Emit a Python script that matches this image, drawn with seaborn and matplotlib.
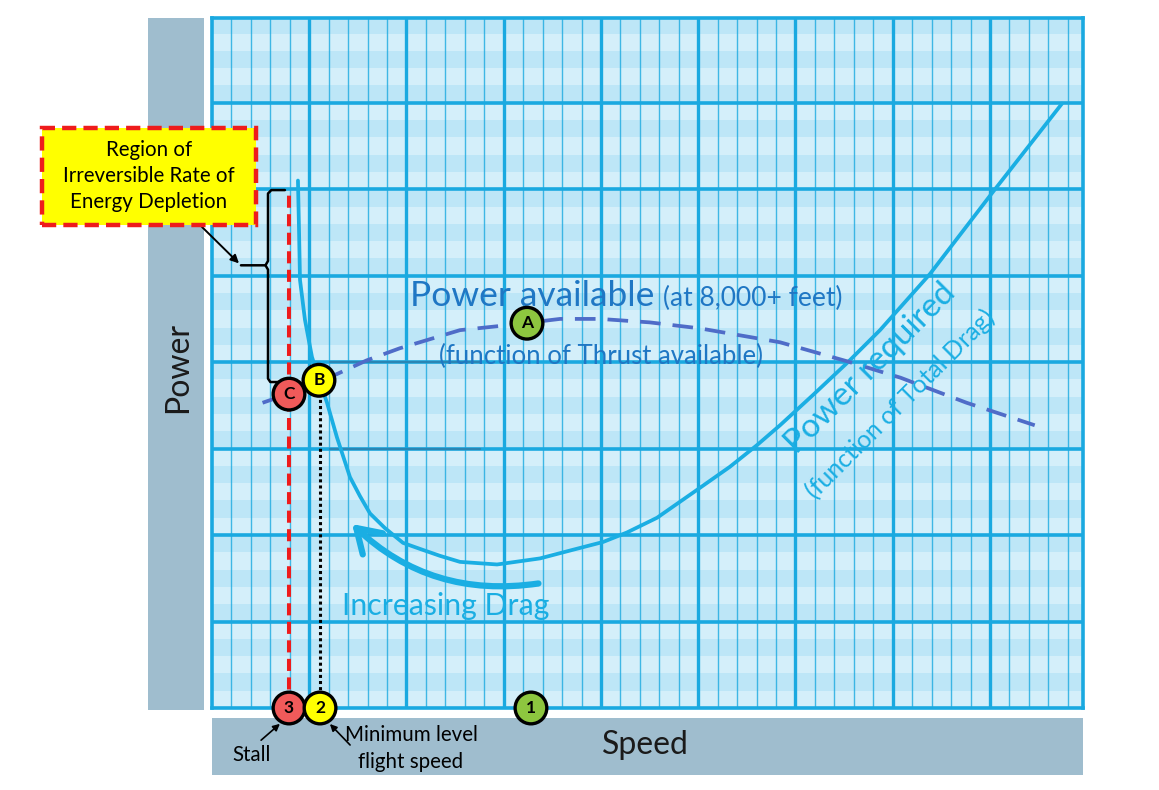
import matplotlib
matplotlib.use("Agg")
import matplotlib.pyplot as plt
from matplotlib.patches import Rectangle, FancyArrowPatch
import seaborn as sns
import numpy as np
import pandas as pd

# power required curve (speed, power), grid units
req_speed = [0.884, 0.895, 0.905, 0.956, 1.028, 1.111, 1.183, 1.285, 1.419, 1.522,
             1.625, 1.779, 1.964, 2.139, 2.344, 2.550, 2.931, 3.373, 3.712, 4.021,
             4.267, 4.576, 4.946, 5.326, 5.604, 5.841, 6.180, 6.530, 6.869, 7.383,
             8.031, 8.740]
req_power = [6.10, 5.53, 4.95, 4.49, 4.06, 3.77, 3.53, 3.13, 2.67, 2.45,
             2.25, 2.08, 1.91, 1.84, 1.76, 1.69, 1.66, 1.73, 1.83, 1.92,
             2.03, 2.20, 2.49, 2.79, 3.04, 3.27, 3.62, 3.99, 4.37, 5.02,
             5.97, 6.99]

# power available curve (dashed)
avail_speed = [0.52, 1.01, 1.59, 1.93, 2.55, 3.06, 3.58, 3.99, 4.50, 5.02, 5.84, 6.53, 7.08, 7.76, 8.46]
avail_power = [3.53, 3.72, 4.02, 4.16, 4.37, 4.43, 4.50, 4.50, 4.46, 4.39, 4.23, 4.01, 3.82, 3.53, 3.27]

# labelled points
pt_labels = ["C", "B", "A", "3", "2", "1"]
pt_speed = [0.792, 1.100, 3.239, 0.792, 1.111, 3.280]
pt_power = [3.63, 3.79, 4.45, 0.0, 0.0, 0.0]
pt_colors = ["#f05a5a", "#ffff00", "#8dc63f", "#f05a5a", "#ffff00", "#8dc63f"]

stall_speed = 0.792
min_level_speed = 1.111

XMAX, YMAX = 8.956, 7.98
GRID = "#1aa9e0"
BLUE_TXT = "#1f77c4"
LIGHT_BLUE = "#1aaee3"

sns.set_theme(style="white")
plt.rcParams['font.family'] = ['Lato', 'DejaVu Sans']

fig = plt.figure(figsize=(11.59, 7.90), dpi=100)
fig.patch.set_facecolor("white")

# grey label bars (behind the axes)
fig.patches.append(Rectangle((0.1277, 0.1013), 0.0483, 0.876, transform=fig.transFigure,
                             facecolor="#9fbdce", edgecolor="none", zorder=-1))
fig.patches.append(Rectangle((0.1829, 0.019), 0.7515, 0.0722, transform=fig.transFigure,
                             facecolor="#9fbdce", edgecolor="none", zorder=-1))
fig.text(0.1536, 0.535, "Power", rotation=90, ha="center", va="center", fontsize=23, color="#1a1a1a")
fig.text(0.5565, 0.057, "Speed", ha="center", va="center", fontsize=23, color="#1a1a1a")

ax = fig.add_axes([0.1829, 0.1038, 0.7515, 0.8734])
ax.set_xlim(0, XMAX)
ax.set_ylim(0, YMAX)

# striped background
for k, y0 in enumerate(np.arange(0, YMAX, 0.2)):
    ax.axhspan(y0, min(y0 + 0.2, YMAX), color="#d4effa" if k % 2 == 0 else "#bde6f7", lw=0, zorder=0)

# grid lines
for xv in np.arange(0.2, XMAX, 0.2):
    major = abs(xv - round(xv)) < 1e-6
    ax.axvline(xv, color=GRID, lw=2.4 if major else 1.0, alpha=1 if major else 0.8, zorder=1)
for yv in range(1, 8):
    ax.axhline(yv, color=GRID, lw=2.6, zorder=1)
for yv in [3, 4]:
    ax.plot([1.21, 2.76], [yv, yv], color="#2a86b4", lw=1.6, zorder=1)
ax.set_xticks([])
ax.set_yticks([])
for s in ax.spines.values():
    s.set_color(GRID)
    s.set_linewidth(2.6)

# curves
req = pd.DataFrame({"speed": req_speed, "power": req_power})
avail = pd.DataFrame({"speed": avail_speed, "power": avail_power})
sns.lineplot(data=req, x="speed", y="power", sort=False, estimator=None, color=LIGHT_BLUE,
             lw=2.7, ax=ax, zorder=4)
sns.lineplot(data=avail, x="speed", y="power", sort=False, estimator=None, color="#4f6cc8",
             lw=2.7, ax=ax, zorder=4)
ax.lines[-1].set_dashes((5.5, 3.2))
for ln in ax.lines[-2:]:
    ln.set_solid_joinstyle("round")

# stall & minimum level speed lines
ax.plot([stall_speed, stall_speed], [0, 5.99], color="#ee1c1c", lw=2.9, dashes=(3, 1.6), zorder=5)
ax.plot([min_level_speed, min_level_speed], [0, 3.6], color="black", lw=2.2, dashes=(1, 1), zorder=5)

# bracket
ax.plot([0.75, 0.61, 0.576, 0.576, 0.55, 0.298], [5.99, 5.99, 5.95, 5.17, 5.12, 5.12],
        color="black", lw=1.8, zorder=6)
ax.plot([0.55, 0.576, 0.576, 0.60, 0.70], [5.12, 5.07, 3.81, 3.77, 3.77],
        color="black", lw=1.8, zorder=6)

# labelled circles
ax.scatter(pt_speed, pt_power, s=520, c=pt_colors, edgecolors="black", linewidths=2.4,
           zorder=8, clip_on=False)
for lab, xs, ys in zip(pt_labels, pt_speed, pt_power):
    ax.text(xs, ys, lab, ha="center", va="center", fontsize=12.5, fontweight="bold",
            color="black", zorder=9, clip_on=False)

# text on the chart
ax.text(2.036, 4.65, "Power available", fontsize=25.5, color=BLUE_TXT, ha="left", va="baseline", zorder=7)
ax.text(4.64, 4.65, "(at 8,000+ feet)", fontsize=19, color=BLUE_TXT, ha="left", va="baseline", zorder=7)
ax.text(2.33, 4.07, "(function of Thrust available)", fontsize=18.5, color=BLUE_TXT, ha="left",
        va="center", zorder=7)
ax.text(6.77, 3.93, "Power required", fontsize=24, color=LIGHT_BLUE, rotation=45,
        rotation_mode="anchor", ha="center", va="center", zorder=7)
ax.text(7.08, 3.51, "(function of Total Drag)", fontsize=18, color=LIGHT_BLUE, rotation=45,
        rotation_mode="anchor", ha="center", va="center", zorder=7)
ax.text(2.40, 1.18, "Increasing Drag", fontsize=21.8, color=LIGHT_BLUE, ha="center", va="center", zorder=7)

# increasing drag arrow
arr = FancyArrowPatch((3.385, 1.445), (1.42, 2.15), connectionstyle="arc3,rad=-0.25",
                      arrowstyle="->,head_length=0.55,head_width=0.35", mutation_scale=30,
                      color=LIGHT_BLUE, lw=4.5, zorder=6)
ax.add_patch(arr)

# region callout box
fig.patches.append(Rectangle((0.0362, 0.7152), 0.1846, 0.1228, transform=fig.transFigure,
                             facecolor="#ffff00", edgecolor="#ee1c1c", lw=3.2,
                             linestyle=(0, (3.2, 1.6)), zorder=10))
fig.text(0.1285, 0.7775, "Region of\nIrreversible Rate of\nEnergy Depletion", ha="center",
         va="center", fontsize=14.8, linespacing=1.38, color="black", zorder=11)
ax.annotate("", xy=(0.298, 5.12), xycoords="data", xytext=(200, 565), textcoords="figure pixels",
            arrowprops=dict(arrowstyle="-|>", color="black", lw=1.4, mutation_scale=12),
            annotation_clip=False, zorder=11)

# stall / minimum speed notes
fig.text(0.2174, 0.044, "Stall", ha="center", va="center", fontsize=14.8, color="black")
fig.text(345 / 1159, 1 - 735 / 790, "Minimum level", ha="left", va="center", fontsize=14.8, color="black")
fig.text(358 / 1159, 1 - 762 / 790, "flight speed", ha="left", va="center", fontsize=14.8, color="black")
ax.annotate("", xy=(282, 68), xycoords="figure pixels", xytext=(259, 48), textcoords="figure pixels",
            arrowprops=dict(arrowstyle="-|>", color="black", lw=1.2, mutation_scale=10),
            annotation_clip=False)
ax.annotate("", xy=(328, 68), xycoords="figure pixels", xytext=(352, 43), textcoords="figure pixels",
            arrowprops=dict(arrowstyle="-|>", color="black", lw=1.2, mutation_scale=10),
            annotation_clip=False)

fig.savefig("out.png", dpi=100)
